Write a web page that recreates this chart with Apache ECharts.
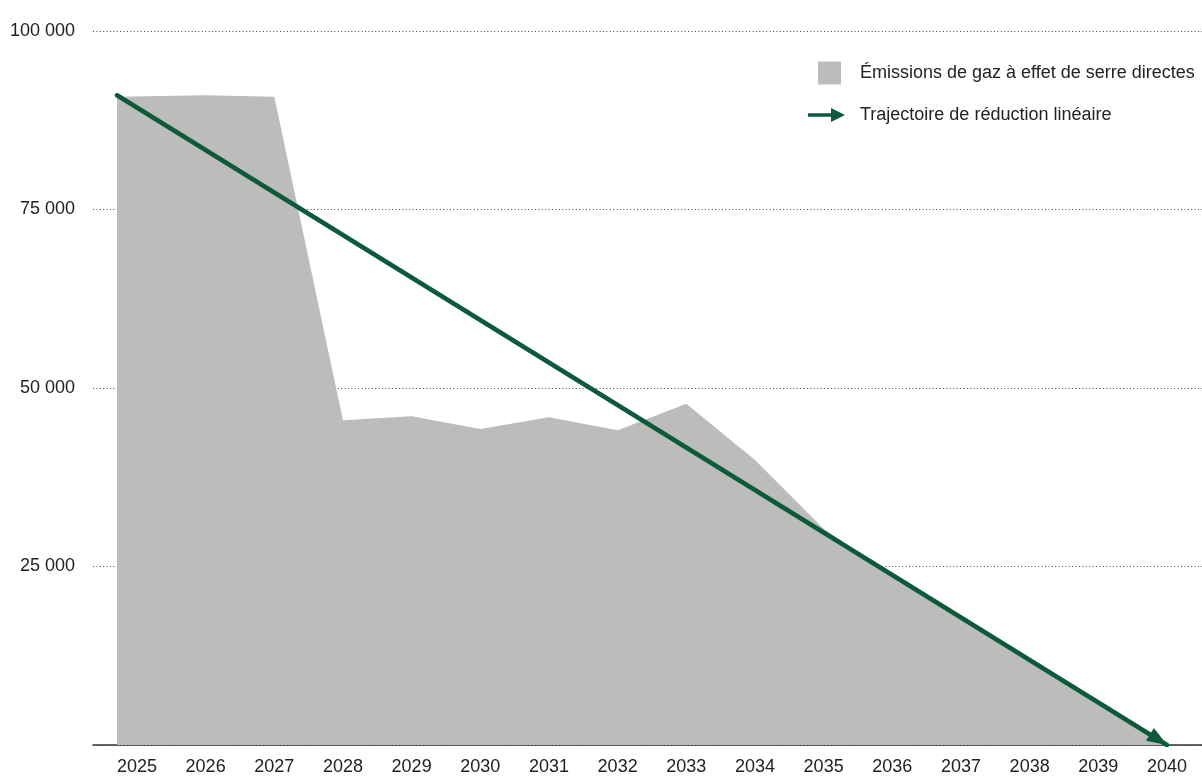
<!DOCTYPE html>
<html>
<head>
<meta charset="utf-8">
<script src="https://cdn.jsdelivr.net/npm/echarts@6/dist/echarts.min.js"></script>
<style>
  html, body { margin: 0; padding: 0; background: #ffffff; }
  #chart { width: 1202px; height: 776px; }
</style>
</head>
<body>
<div id="chart"></div>
<script>
// Axis tick labels (years shown under the axis)
const yearLabels = [2025, 2026, 2027, 2028, 2029, 2030, 2031, 2032, 2033, 2034, 2035, 2036, 2037, 2038, 2039, 2040];
// x positions (in years) where the emission points are drawn (first point sits left of the 2025 label in the reference)
const emissionYears = [2024.71, 2026, 2027, 2028, 2029, 2030, 2031, 2032, 2033, 2034, 2035, 2036, 2037, 2038, 2039, 2040];
// Direct greenhouse-gas emissions
const emissions = [90800, 91000, 90800, 45470, 46030, 44270, 45890, 44080, 47800, 39900, 30300, 23700, 17700, 11800, 5800, 0];
// Linear reduction trajectory: start and end
const trajectoryYears = [2024.71, 2040];
const trajectory = [91000, 0];
// Y tick values
const yTicks = [0, 25000, 50000, 75000, 100000];

const nameEmissions = 'Émissions de gaz à effet de serre directes';
const nameTrajectory = 'Trajectoire de réduction linéaire';
const green = '#0b5a3b';
const grey = '#bcbcbb';
const font = '"Liberation Sans", Arial, sans-serif';

const chart = echarts.init(document.getElementById('chart'), null, { renderer: 'canvas' });

const emissionData = emissions.map((v, i) => [emissionYears[i], v]);
const trajectoryData = trajectory.map((v, i) => {
  if (i === trajectory.length - 1) {
    return {
      value: [trajectoryYears[i], v],
      symbol: 'triangle',
      symbolSize: [15, 20],
      symbolRotate: -121.8,
      symbolOffset: [-8.5, -5.3]
    };
  }
  return { value: [trajectoryYears[i], v], symbol: 'none' };
});

const option = {
  animation: false,
  backgroundColor: '#ffffff',
  textStyle: { fontFamily: font },
  grid: { left: 93, right: 0, top: 31, bottom: 28.5 },
  legend: [
    {
      data: [nameEmissions],
      left: 818, top: 61.5,
      padding: 0,
      itemWidth: 23, itemHeight: 23,
      icon: 'rect',
      selectedMode: false,
      textStyle: { fontSize: 18, color: '#222', fontFamily: font, padding: [0, 0, 0, 14] }
    },
    {
      data: [nameTrajectory],
      left: 808, top: 106,
      padding: 0,
      itemWidth: 37, itemHeight: 14,
      icon: 'path://M0,5.3 L23,5.3 L23,0 L37,7 L23,14 L23,8.7 L0,8.7 Z',
      selectedMode: false,
      textStyle: { fontSize: 18, color: '#222', fontFamily: font, padding: [0, 0, 0, 10] }
    }
  ],
  xAxis: {
    type: 'value',
    min: 2024.36,
    max: 2040.51,
    axisLine: { show: true, lineStyle: { color: '#333', width: 1.5 } },
    axisTick: { show: false },
    splitLine: { show: false },
    axisLabel: {
      customValues: yearLabels,
      formatter: v => String(Math.round(v)),
      fontSize: 18,
      color: '#222',
      fontFamily: font,
      margin: 13
    }
  },
  yAxis: {
    type: 'value',
    min: yTicks[0],
    max: yTicks[yTicks.length - 1],
    interval: 25000,
    axisLine: { show: false },
    axisTick: { show: false },
    axisLabel: {
      fontSize: 18,
      color: '#222',
      fontFamily: font,
      margin: 18,
      formatter: v => v === 0 ? '' : String(v).replace(/\B(?=(\d{3})+(?!\d))/g, ' ')
    },
    splitLine: {
      show: true,
      lineStyle: { color: '#444', width: 1, type: [1, 2.4] }
    }
  },
  series: [
    {
      name: nameEmissions,
      type: 'line',
      data: emissionData,
      color: grey,
      symbol: 'none',
      lineStyle: { width: 0, color: grey },
      areaStyle: { color: grey, opacity: 1 },
      itemStyle: { color: grey },
      z: 1
    },
    {
      name: nameTrajectory,
      type: 'line',
      data: trajectoryData,
      color: green,
      showSymbol: true,
      lineStyle: { width: 4.5, color: green, cap: 'round' },
      itemStyle: { color: green },
      z: 3
    }
  ]
};

chart.setOption(option);
</script>
</body>
</html>
